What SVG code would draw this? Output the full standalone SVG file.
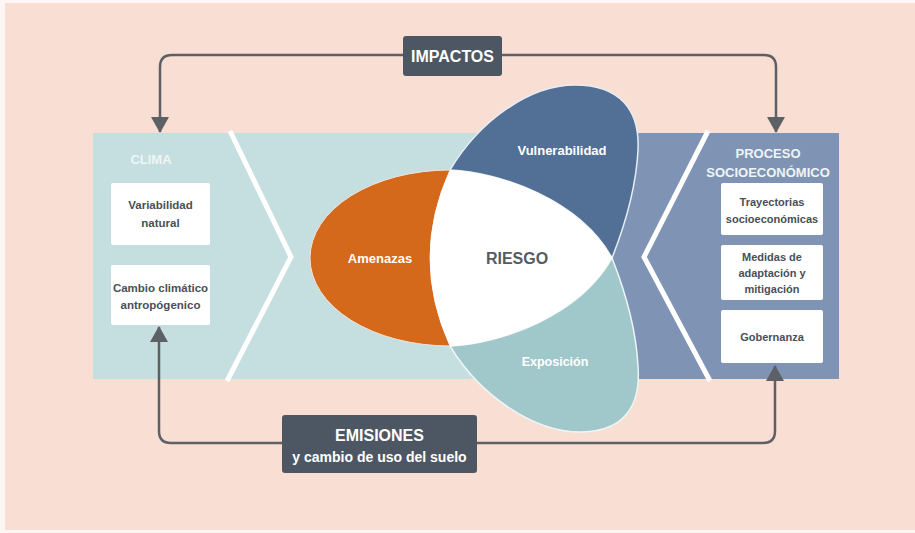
<svg xmlns="http://www.w3.org/2000/svg" width="915" height="533" viewBox="0 0 915 533">
  <style>
    text { font-family: "Liberation Sans", Arial, sans-serif; font-weight: bold; text-anchor: middle; dominant-baseline: central; }
    .box { fill: #ffffff; }
    .boxtxt { fill: #4a4f57; font-size: 11.5px; }
    .boxtxt2 { fill: #4a4f57; font-size: 11px; }
    .paneltitle { fill: #eef5f6; font-size: 13px; }
    .ell { fill: #ffffff; font-size: 13px; }
    .dark { fill: #4d5764; }
    .darktxt { fill: #ffffff; font-size: 16px; }
    .chev { fill: none; stroke: #ffffff; stroke-width: 5; stroke-linejoin: miter; }
    .conn { fill: none; stroke: #5d6166; stroke-width: 2.5; }
  </style>
  <defs>
    <marker id="arrow" viewBox="0 0 16 18" refX="15" refY="9" markerWidth="16" markerHeight="18" orient="auto" markerUnits="userSpaceOnUse">
      <path d="M0,0 L16,9 L0,18 Z" fill="#5d6166"/>
    </marker>
  </defs>

  <rect x="0" y="0" width="915" height="533" fill="#fdf6f2"/>
  <rect x="5" y="3" width="910" height="527" fill="#f9dfd3"/>

  <g id="clima">
    <rect x="93" y="133" width="470" height="246" fill="#c5dfe0"/>
    <polyline class="chev" points="230,131 291,257 227,381"/>
    <text class="paneltitle" x="151" y="159">CLIMA</text>
  </g>
  <g id="proceso">
    <rect x="563" y="133" width="276" height="246" fill="#7f94b5"/>
    <polyline class="chev" points="708,131 644,257 710,381"/>
    <text class="paneltitle" x="768" y="153">PROCESO</text>
    <text class="paneltitle" x="768" y="172">SOCIOECONÓMICO</text>
  </g>

  <g id="variabilidad">
    <rect class="box" x="111" y="183" width="99" height="62" rx="2"/>
    <text class="boxtxt" x="160.5" y="205">Variabilidad</text>
    <text class="boxtxt" x="160.5" y="223">natural</text>
  </g>
  <g id="cambio">
    <rect class="box" x="111" y="265" width="99" height="60" rx="2"/>
    <text class="boxtxt" x="160.5" y="288">Cambio climático</text>
    <text class="boxtxt" x="160.5" y="305">antropógenico</text>
  </g>

  <g id="trayectorias">
    <rect class="box" x="721" y="183" width="102" height="52" rx="2"/>
    <text class="boxtxt2" x="772" y="202">Trayectorias</text>
    <text class="boxtxt2" x="772" y="219">socioeconómicas</text>
  </g>
  <g id="medidas">
    <rect class="box" x="721" y="245" width="102" height="55" rx="2"/>
    <text class="boxtxt2" x="772" y="257">Medidas de</text>
    <text class="boxtxt2" x="772" y="273">adaptación y</text>
    <text class="boxtxt2" x="772" y="289">mitigación</text>
  </g>
  <g id="gobernanza">
    <rect class="box" x="721" y="310" width="102" height="53" rx="2"/>
    <text class="boxtxt2" x="772" y="337">Gobernanza</text>
  </g>

  <g id="vulnerabilidad">
    <path d="M450,170 C480,120 530,85 575,85 C620,85 640,110 638,150 C636,190 625,225 612,258 C580,200 500,172 450,170 Z" fill="#526f96" stroke="#e6eef4" stroke-width="1.5"/>
    <text class="ell" x="562" y="150">Vulnerabilidad</text>
  </g>
  <g id="exposicion">
    <path d="M450,346 C480,396 535,433 582,432 C625,431 641,405 638,366 C636,326 625,291 612,258 C580,316 500,344 450,346 Z" fill="#a0c7c9" stroke="#eef5f5" stroke-width="1.5"/>
    <text class="ell" x="555" y="362" style="font-size:12.5px">Exposición</text>
  </g>
  <g id="amenazas">
    <path d="M450,170 A140,88 0 0 0 450,346 Q410,258 450,170 Z" fill="#d4691c" stroke="#f3e3d8" stroke-width="1"/>
    <text class="ell" x="380" y="258">Amenazas</text>
  </g>
  <g id="riesgo">
    <path d="M450,170 C500,172 580,200 612,258 C580,316 500,344 450,346 Q410,258 450,170 Z" fill="#ffffff"/>
    <text x="517" y="258" style="font-size:16px; fill:#555b63">RIESGO</text>
  </g>

  <g id="connectors">
    <path class="conn" d="M403,55 H172 Q160,55 160,67 V132" marker-end="url(#arrow)"/>
    <path class="conn" d="M502,55 H764 Q776,55 776,67 V132" marker-end="url(#arrow)"/>
    <path class="conn" d="M282,443 H171 Q159,443 159,431 V327" marker-end="url(#arrow)"/>
    <path class="conn" d="M477,443 H763 Q775,443 775,431 V366" marker-end="url(#arrow)"/>
  </g>

  <g id="impactos">
    <rect class="dark" x="403" y="36" width="99" height="40" rx="3"/>
    <text class="darktxt" x="452.5" y="56">IMPACTOS</text>
  </g>
  <g id="emisiones">
    <rect class="dark" x="282" y="415" width="195" height="58" rx="3"/>
    <text class="darktxt" x="379.5" y="435">EMISIONES</text>
    <text class="darktxt" x="379.5" y="457" style="font-size:14px">y cambio de uso del suelo</text>
  </g>
</svg>
